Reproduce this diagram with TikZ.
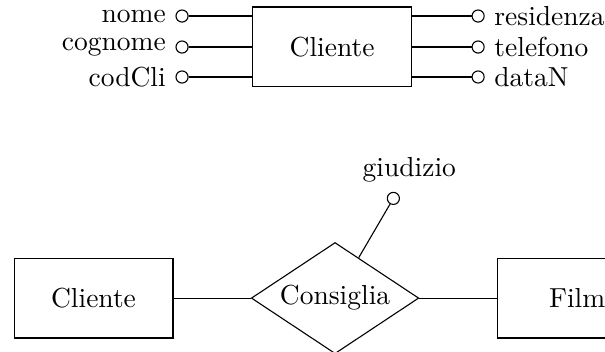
\documentclass[tikz,border=0pt]{standalone}
\usetikzlibrary{shapes.geometric}
\tikzset{
  entity/.style={rectangle, draw=black, minimum width=2.03cm, minimum height=1.02cm},
  relation/.style={diamond, draw=black, aspect=1.5, inner sep=0pt, minimum width=2.14cm, minimum height=1.42cm},
  attr/.style={circle, draw=black, fill=white, inner sep=0pt, minimum size=4.4pt}
}
\begin{document}
\begin{tikzpicture}
\useasboundingbox (0,0) rectangle (7.73,4.486);
% entita Cliente con attributi
\node [entity] (cli) at (4.243,3.886) {Cliente};
\node [attr, label={left:nome}] (nome) at (2.326,4.281) {};
\node [attr, label={left:cognome}] (cognome) at (2.326,3.885) {};
\node [attr, label={left:codCli}] (codCli) at (2.326,3.502) {};
\node [attr, label={right:residenza}] (residenza) at (6.109,4.281) {};
\node [attr, label={right:telefono}] (telefono) at (6.109,3.885) {};
\node [attr, label={right:dataN}] (dataN) at (6.109,3.502) {};
\draw (nome) -- (nome -| cli.west);
\draw (cognome) -- (cognome -| cli.west);
\draw (codCli) -- (codCli -| cli.west);
\draw (residenza) -- (residenza -| cli.east);
\draw (telefono) -- (telefono -| cli.east);
\draw (dataN) -- (dataN -| cli.east);
% relazione Consiglia
\node [entity] (cliente) at (1.195,0.677) {Cliente};
\node [relation] (consiglia) at (4.281,0.677) {Consiglia};
\node [entity] (film) at (7.374,0.677) {Film};
\node [attr, label={[xshift=5.8pt]above:giudizio}] (giudizio) at (5.026,1.951) {};
\draw (cliente) -- (consiglia);
\draw (consiglia) -- (film);
\draw (giudizio) -- (consiglia);
\end{tikzpicture}
\end{document}
